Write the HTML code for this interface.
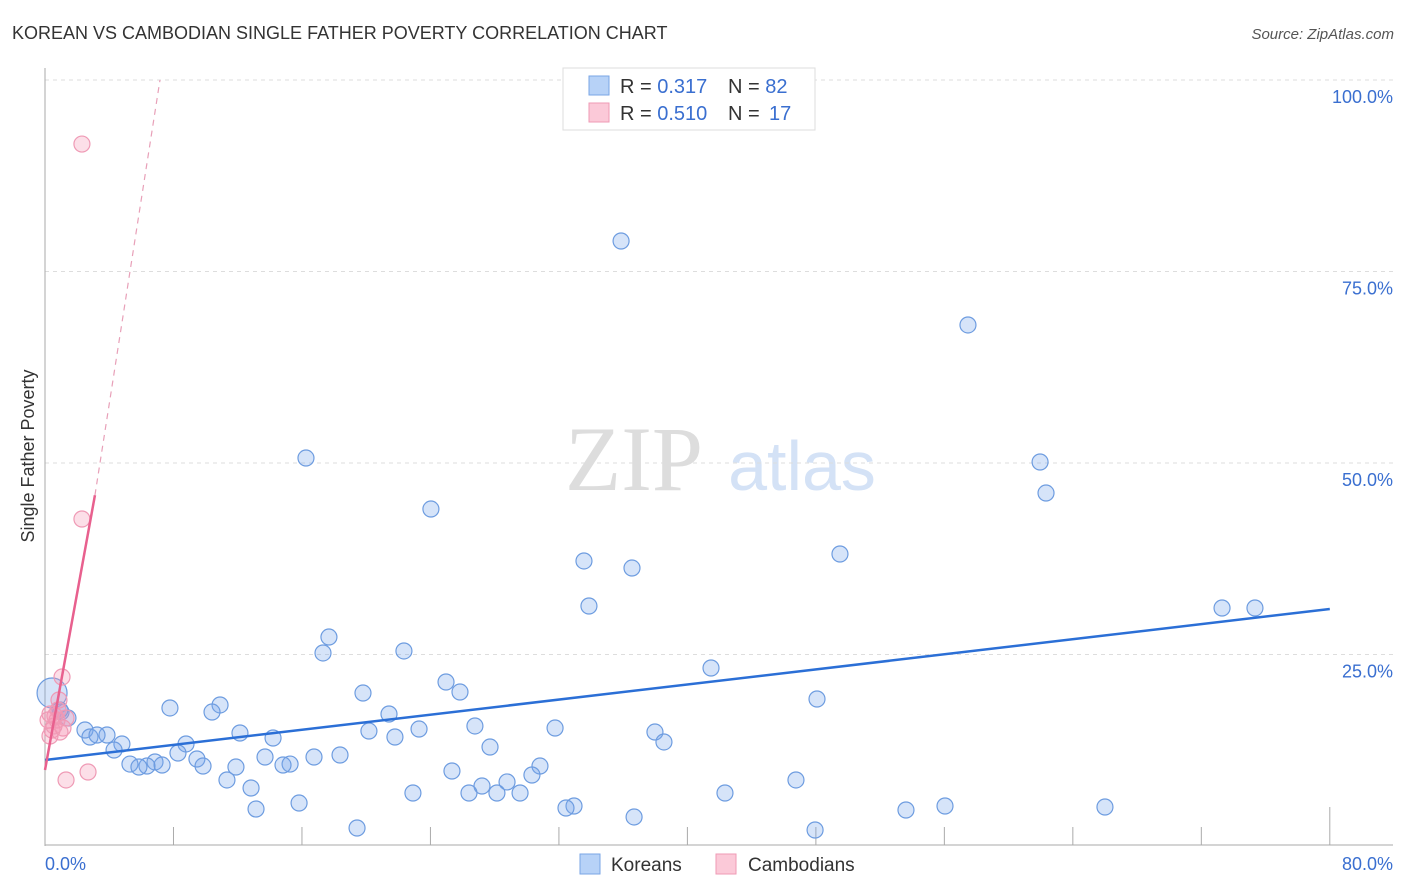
<!DOCTYPE html>
<html><head><meta charset="utf-8"><style>
body{margin:0;background:#fff;font-family:"Liberation Sans",sans-serif;}
svg{display:block}
</style></head><body>
<svg id="chart" width="1406" height="892">
<text x="12" y="39" font-size="18" fill="#333">KOREAN VS CAMBODIAN SINGLE FATHER POVERTY CORRELATION CHART</text>
<text x="1394" y="39" font-size="15" fill="#555" font-style="italic" text-anchor="end">Source: ZipAtlas.com</text>
<text x="34" y="456" font-size="18" fill="#333" transform="rotate(-90 34 456)" text-anchor="middle">Single Father Poverty</text>
<g>
<text x="634" y="490" font-size="92" fill="#ddd" font-family="Liberation Serif,serif" text-anchor="middle">ZIP</text>
<text x="802" y="490" font-size="70" fill="#d4e2f6" text-anchor="middle">atlas</text>
</g>
<g id="grid"></g>
<g id="axes"></g>
<g id="pts"></g>
<g id="trends"></g>
<g>
<rect x="563" y="68" width="252" height="62" fill="#fff" stroke="#ddd"/>
<rect x="589" y="76" width="20" height="19" fill="#b7d2f7" stroke="#7aa6e6"/>
<rect x="589" y="103" width="20" height="19" fill="#fbc9d8" stroke="#ef9ab5"/>
<text x="620" y="93" font-size="20" fill="#333">R = <tspan fill="#3a6fd0">0.317</tspan><tspan x="728">N = </tspan><tspan fill="#3a6fd0">82</tspan></text>
<text x="620" y="120" font-size="20" fill="#333">R = <tspan fill="#3a6fd0">0.510</tspan><tspan x="728">N = </tspan><tspan fill="#3a6fd0" x="769">17</tspan></text>
</g>
<g>
<rect x="580" y="854" width="20" height="20" fill="#b7d2f7" stroke="#7aa6e6"/>
<text x="611" y="871" font-size="19" fill="#333">Koreans</text>
<rect x="716" y="854" width="20" height="20" fill="#fbc9d8" stroke="#ef9ab5"/>
<text x="748" y="871" font-size="19" fill="#333">Cambodians</text>
</g>
</svg>
<script>
const yTicks=[25,50,75,100];
const yTickLabels=["25.0%","50.0%","75.0%","100.0%"];
const xTicks=[0,8,16,24,32,40,48,56,64,72,80];
const koreanX=[35.87,57.47,16.25,61.96,62.33,24.03,49.50,33.56,36.55,33.87,73.29,75.34,17.68,17.31,22.35,41.47,24.97,25.84,19.80,48.07,10.90,7.78,10.40,21.42,1.00,1.43,26.77,31.76,23.29,20.17,12.14,37.98,2.49,3.86,2.80,3.24,14.20,21.79,38.54,8.78,4.79,27.71,4.30,8.28,18.37,16.75,13.70,9.46,5.29,6.85,6.35,5.85,7.29,15.26,14.82,9.84,30.82,11.89,25.34,30.32,28.77,27.21,11.33,46.76,12.83,29.58,22.91,26.40,28.14,42.34,15.82,32.94,32.44,56.04,66.00,13.14,53.61,36.68,19.43,47.95,0.44,0.93];
const koreanY=[78.98,68.02,50.65,50.13,46.08,43.99,38.12,37.21,36.29,31.33,31.07,31.07,27.28,25.20,25.46,23.24,21.41,20.10,19.97,19.19,18.41,18.02,17.49,17.23,17.49,16.71,15.67,15.40,15.27,15.01,14.75,14.88,15.14,14.49,14.23,14.49,14.10,14.23,13.58,13.32,13.32,12.92,12.53,12.14,11.88,11.62,11.62,11.36,10.70,10.97,10.44,10.31,10.57,10.70,10.57,10.44,10.44,10.31,9.79,9.27,8.36,7.83,8.62,8.62,7.57,6.92,6.92,6.92,6.92,6.92,5.61,5.22,4.96,5.22,5.09,4.83,4.70,3.79,2.35,2.09,19.97,17.75];
const cambX=[2.30,2.30,1.06,2.68,1.31,0.87,0.31,0.75,1.12,0.44,0.93,0.19,0.62,1.31,0.31,0.81,0.56];
const cambY=[91.64,42.69,22.06,9.66,8.62,19.06,17.23,16.45,15.40,15.14,14.88,16.45,16.97,16.71,14.36,17.75,15.67];
const koreanTrend=[11.23,30.94];
const cambTrend=[9.92,45.8,100];
const cambTrendX=[0,3.11,7.16];

const NS="http://www.w3.org/2000/svg";
const sx=v=>45+v*16.06;
const sy=v=>846-v*7.66;
function mk(parent,tag,attrs){const e=document.createElementNS(NS,tag);for(const k in attrs)e.setAttribute(k,attrs[k]);document.getElementById(parent).appendChild(e);return e;}
yTicks.forEach((t,i)=>{
  const g=mk('grid','line',{x1:45,x2:1393,y1:sy(t),y2:sy(t),stroke:'#ddd','stroke-dasharray':'4,4'});
  
  
  const l=mk('grid','text',{x:1393,y:sy(t)+23,'font-size':18,fill:'#3a6fd0','text-anchor':'end'});
  l.textContent=yTickLabels[i];
  
  
});
const ax=mk('axes','line',{x1:45,x2:45,y1:68,y2:846,stroke:'#aaa'});


const bx=mk('axes','line',{x1:45,x2:1393,y1:845,y2:845,stroke:'#aaa'});


xTicks.forEach((t,i)=>{
  if(i===0)return;
  const tk=mk('axes','line',{x1:sx(t),x2:sx(t),y1:i===xTicks.length-1?807:827,y2:845,stroke:'#aaa'});
  
  
});
const x0=mk('axes','text',{x:45,y:870,'font-size':18,fill:'#3a6fd0'});x0.textContent='0.0%';


const x1=mk('axes','text',{x:1393,y:870,'font-size':18,fill:'#3a6fd0','text-anchor':'end'});x1.textContent='80.0%';


koreanX.forEach((v,i)=>{
  const big=i===80;
  const c=mk('pts','circle',{cx:sx(v),cy:sy(koreanY[i]),r:big?15:8,fill:'rgba(120,165,235,0.3)',stroke:'#6d9ce0','stroke-width':1.2});
  
  
});
cambX.forEach((v,i)=>{
  const c=mk('pts','circle',{cx:sx(v),cy:sy(cambY[i]),r:8,fill:'rgba(245,150,180,0.3)',stroke:'#ef9ab5','stroke-width':1.2});
  
  
});
const kt=mk('trends','line',{x1:sx(0),y1:sy(koreanTrend[0]),x2:sx(80),y2:sy(koreanTrend[1]),stroke:'#2b6fd6','stroke-width':2.5});


const ct=mk('trends','line',{x1:sx(cambTrendX[0]),y1:sy(cambTrend[0]),x2:sx(cambTrendX[1]),y2:sy(cambTrend[1]),stroke:'#e8608e','stroke-width':2.5});


const cd=mk('trends','line',{x1:sx(cambTrendX[1]),y1:sy(cambTrend[1]),x2:sx(cambTrendX[2]),y2:sy(cambTrend[2]),stroke:'#e8a0b8','stroke-width':1.2,'stroke-dasharray':'6,5'});


</script>
</body></html>
